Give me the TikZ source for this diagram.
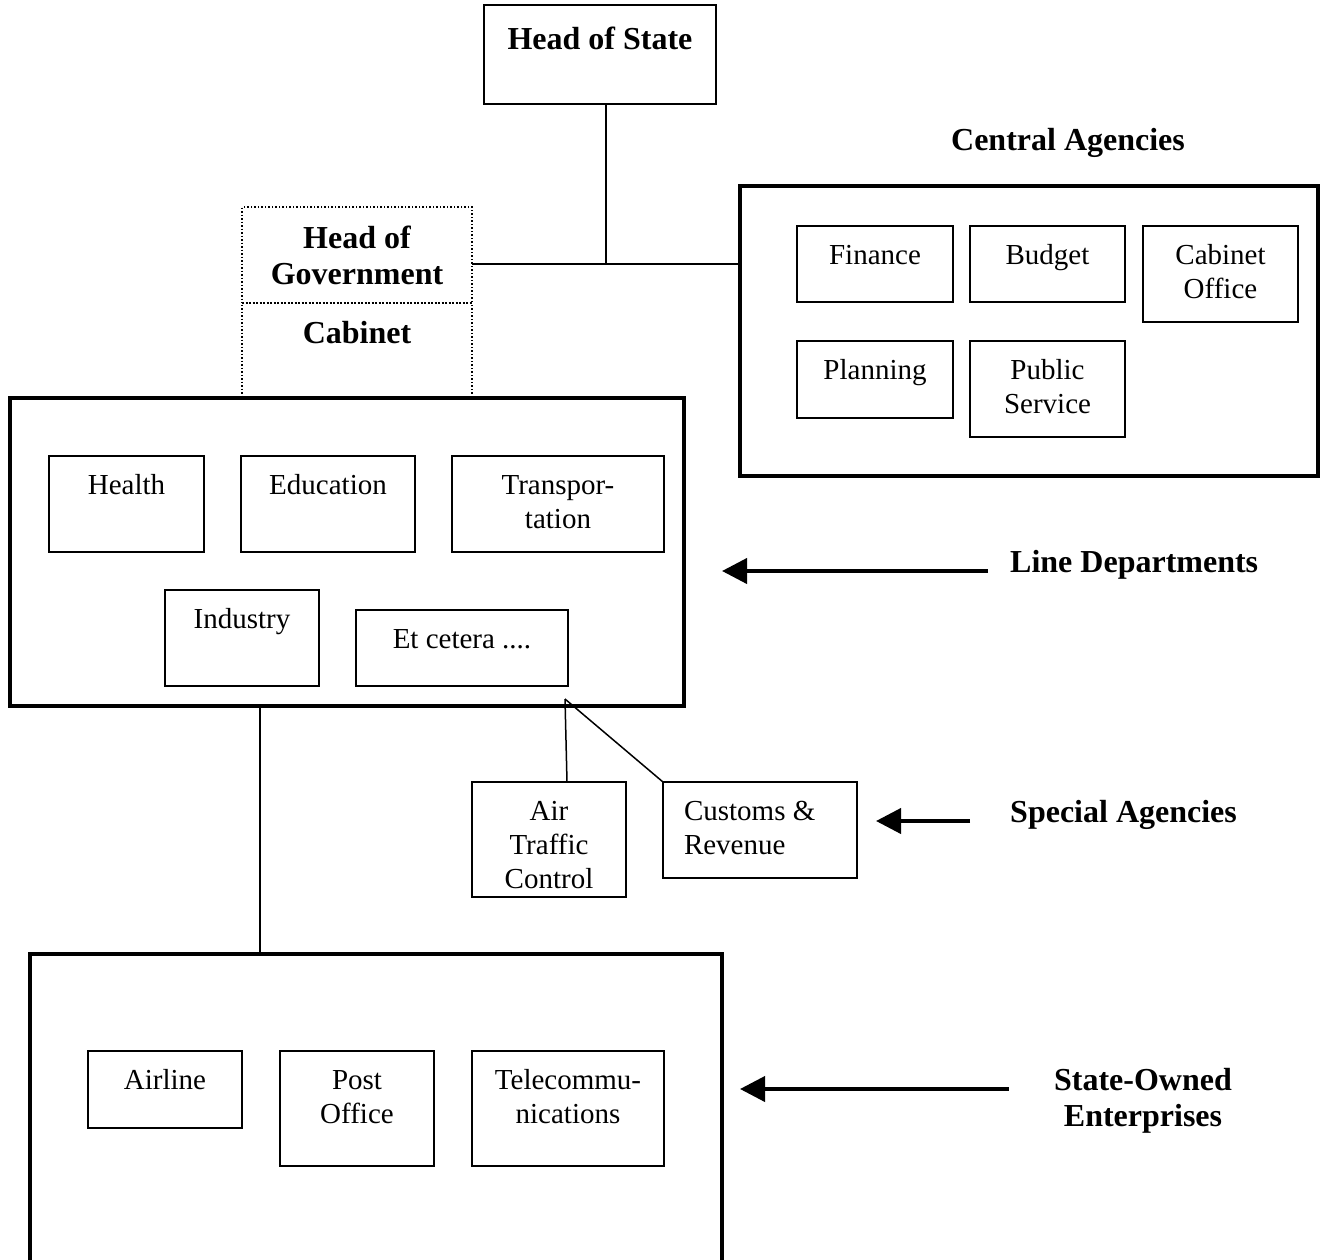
\documentclass[tikz,border=0pt]{standalone}
\usepackage{fontspec}
\setmainfont{Liberation Serif}
\usetikzlibrary{arrows.meta}
\newcommand{\Unit}[4][38]{\parbox[t][#3pt][t]{#2pt}{\centering\rule{0pt}{#1pt}#4}}

\begin{document}
\begin{tikzpicture}
    [
        x=1pt, y=-1pt,
        office/.style = {draw, line width=1.5pt, inner sep=0pt, outer sep=0pt, anchor=north west, font=\fontsize{29}{34}\selectfont},
        seat/.style = {draw, dotted, line width=1.5pt, inner sep=0pt, outer sep=0pt, anchor=north west, font=\fontsize{32}{36}\selectfont\bfseries},
        dept/.style = {draw, line width=4pt, inner sep=0pt, outer sep=0pt, anchor=north west},
        heading/.style = {inner sep=0pt, align=center, font=\fontsize{32}{36}\selectfont\bfseries},
        wire/.style = {line width=1.5pt},
        pointer/.style = {line width=4pt, -{Triangle[length=25pt,width=25pt]}},
    ]

    \useasboundingbox (0,0) rectangle (1320,1259);

    \node[office, font=\fontsize{32}{36}\selectfont\bfseries] (state) at (484,5) {\Unit[44]{232}{99}{Head of State}};

    \node[seat] (hog) at (242,207)     {\Unit[41]{230}{96}{Head of\\Government}};
    \node[seat] (cabinet) at (242,303) {\Unit[40]{230}{95}{Cabinet}};

    \node[heading] (centraltag) at (1068,143) {Central Agencies};
    \node[dept, minimum width=578, minimum height=290] (central) at (740,186) {};
    \node[office] (finance) at (797,226)       {\Unit{156}{76}{Finance}};
    \node[office] (budget) at (970,226)        {\Unit{155}{76}{Budget}};
    \node[office] (cabinetoffice) at (1143,226) {\Unit{155}{96}{Cabinet\\Office}};
    \node[office] (planning) at (797,341)      {\Unit{156}{77}{Planning}};
    \node[office] (publicservice) at (970,341) {\Unit{155}{96}{Public\\Service}};

    \node[dept, minimum width=674, minimum height=308] (linedepts) at (10,398) {};
    \node[office] (health) at (49,456)     {\Unit{155}{96}{Health}};
    \node[office] (education) at (241,456) {\Unit{174}{96}{Education}};
    \node[office] (transport) at (452,456) {\Unit{212}{96}{Transpor-\\tation}};
    \node[office] (industry) at (165,590)  {\Unit{154}{96}{Industry}};
    \node[office] (etcetera) at (356,610)  {\Unit{212}{76}{Et cetera ....}};

    \node[office] (airtraffic) at (472,782) {\Unit{154}{115}{Air\\Traffic\\Control}};
    \node[office] (customs) at (663,782)    {\Unit{194}{96}{\raggedright\leftskip=21pt\relax Customs \&\\Revenue}};

    \node[dept, minimum width=692, minimum height=310] (soe) at (30,954) {};
    \node[office] (airline) at (88,1051)     {\Unit{154}{77}{Airline}};
    \node[office] (postoffice) at (280,1051) {\Unit{154}{115}{Post\\Office}};
    \node[office] (telecom) at (472,1051)    {\Unit{192}{115}{Telecommu-\\nications}};

    \node[heading, anchor=west] (linetag) at (1010,565)    {Line Departments};
    \node[heading, anchor=west] (specialtag) at (1010,815) {Special Agencies};
    \node[heading] (soetag) at (1143,1101)                 {State-Owned\\Enterprises};

    \coordinate (junction) at (606,264);
    \coordinate (drop) at (260,0);
    \coordinate (hook) at (565,699);
    \coordinate (linetip) at (722,571);
    \coordinate (specialtip) at (876,821);
    \coordinate (soetip) at (740,1089);

    \draw [wire] (state.south -| junction) -- (junction);
    \draw [wire] (hog.east |- junction) -- (central.west |- junction);
    \draw [wire] (linedepts.south -| drop) -- (soe.north -| drop);
    \draw [wire] ([xshift=18pt]airtraffic.north) -- (hook);
    \draw [wire] (customs.north west) -- (hook);

    \draw [pointer, shorten <=22pt] (linetag.west |- linetip) -- (linetip);
    \draw [pointer, shorten <=40pt] (specialtag.west |- specialtip) -- (specialtip);
    \draw [pointer, shorten <=45pt] (soetag.west |- soetip) -- (soetip);
\end{tikzpicture}
\end{document}
